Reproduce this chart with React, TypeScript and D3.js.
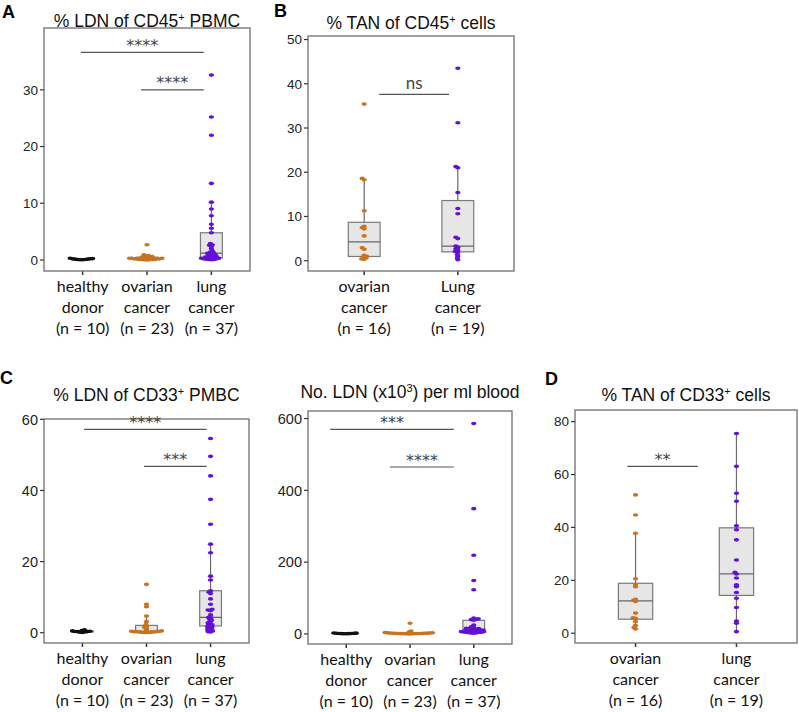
import React from "react";
import * as d3 from "d3";

// ---------------- DATA ----------------
// Panel A: % LDN of CD45+ PBMC
const ldnCD45Healthy = [0.3, 0.25, 0.2, 0.2, 0.15, 0.15, 0.1, 0.1, 0.05, 0.05];
const ldnCD45Ovarian = [2.7, 0.9, 0.8, 0.7, 0.6, 0.5, 0.5, 0.4, 0.4, 0.3, 0.3, 0.3, 0.2, 0.2, 0.2, 0.2, 0.1, 0.1, 0.1, 0.1, 0.05, 0.05, 0.02];
const ldnCD45Lung = [32.6, 25.2, 22.0, 13.5, 10.2, 9.0, 7.8, 6.3, 5.6, 4.8, 2.9, 2.7, 2.6, 2.4, 2.0, 1.6, 1.4, 1.3, 1.2, 1.1, 1.0, 0.9, 0.8, 0.7, 0.6, 0.5, 0.5, 0.4, 0.4, 0.3, 0.3, 0.2, 0.2, 0.15, 0.1, 0.1, 0.05];

// Panel B: % TAN of CD45+ cells
const tanCD45Ovarian = [35.4, 18.6, 18.3, 11.3, 7.8, 7.5, 7.2, 5.6, 2.9, 2.6, 1.2, 1.0, 0.8, 0.6, 0.4, 0.3];
const tanCD45Lung = [43.5, 31.2, 21.3, 21.0, 15.4, 11.8, 10.6, 5.3, 5.0, 3.3, 3.0, 2.7, 2.4, 2.1, 1.9, 1.4, 1.0, 0.6, 0.2];

// Panel C (left): % LDN of CD33+ PMBC
const ldnCD33Healthy = [0.8, 0.6, 0.5, 0.4, 0.35, 0.3, 0.3, 0.2, 0.15, 0.1];
const ldnCD33Ovarian = [13.6, 8.0, 7.3, 4.7, 3.1, 2.3, 1.8, 1.5, 1.2, 0.6, 0.5, 0.4, 0.35, 0.3, 0.3, 0.25, 0.2, 0.2, 0.15, 0.1, 0.1, 0.05, 0.05];
const ldnCD33Lung = [54.6, 49.6, 44.1, 37.5, 30.5, 24.9, 22.5, 15.9, 14.8, 11.8, 11.4, 11.0, 9.5, 8.0, 6.6, 6.4, 6.2, 5.0, 4.3, 4.2, 3.8, 3.5, 3.1, 2.8, 2.6, 2.3, 2.2, 1.9, 1.7, 1.6, 1.4, 1.1, 0.9, 0.7, 0.5, 0.3, 0.2];

// Panel C (right): No. LDN (x10^3) per ml blood
const ldnCountHealthy = [2.6, 2.2, 1.9, 1.6, 1.4, 1.2, 1.0, 0.8, 0.6, 0.4];
const ldnCountOvarian = [30, 8, 5, 4, 3.5, 3, 2.8, 2.5, 2.2, 2, 1.8, 1.6, 1.5, 1.3, 1.2, 1, 0.9, 0.8, 0.6, 0.5, 0.4, 0.3, 0.2];
const ldnCountLung = [586, 349, 219, 149, 123, 44, 42, 41, 40, 38, 25, 20, 18, 16, 15, 14, 13, 12.5, 12, 11, 10, 9.5, 9, 8.5, 8, 7.5, 7, 6.5, 6, 5.5, 5, 4.5, 4, 3.5, 3, 2.5, 2];

// Panel D: % TAN of CD33+ cells
const tanCD33Ovarian = [52.3, 44.7, 37.8, 20.6, 18.3, 17.6, 12.8, 12.4, 12.0, 7.6, 5.8, 5.6, 4.4, 2.9, 2.2, 1.6];
const tanCD33Lung = [75.5, 63.1, 52.9, 49.9, 40.6, 39.1, 35.3, 27.7, 23.0, 22.4, 20.9, 18.3, 17.6, 15.4, 13.2, 9.7, 4.6, 3.8, 0.6];

// Category labels
const labelsThree = [["healthy", "donor", "(n = 10)"], ["ovarian", "cancer", "(n = 23)"], ["lung", "cancer", "(n = 37)"]];
const labelsB = [["ovarian", "cancer", "(n = 16)"], ["Lung", "cancer", "(n = 19)"]];
const labelsD = [["ovarian", "cancer", "(n = 16)"], ["lung", "cancer", "(n = 19)"]];

// Ticks
const ticksA = [0, 10, 20, 30];
const ticksB = [0, 10, 20, 30, 40, 50];
const ticksC1 = [0, 20, 40, 60];
const ticksC2 = [0, 200, 400, 600];
const ticksD = [0, 20, 40, 60, 80];

// Significance annotations: [fromIndex, toIndex, yValue, label]
const sigA = [[0, 2, 36.6, "****"], [1, 2, 30.0, "****"]];
const sigB = [[0, 1, 37.6, "ns"]];
const sigC1 = [[0, 2, 57.2, "****"], [1, 2, 46.8, "***"]];
const sigC2 = [[0, 2, 570, "***"], [1, 2, 465, "****"]];
const sigD = [[0, 1, 63.1, "**"]];

// ---------------- STYLE ----------------
const COL_HEALTHY = "#111111";
const COL_OVARIAN = "#C8731F";
const COL_LUNG = "#6410D8";
const FRAME = "#6e6e6e";
const TICKCOL = "#333333";
const TITLE_FONT = "'Liberation Sans', Arial, sans-serif";
const LABEL_FONT = "Lato, 'Open Sans', sans-serif";

type Panel = {
  letter: string;
  letterPos: [number, number];
  title: React.ReactNode;
  titleY: number;
  box: [number, number, number, number];
  domain: [number, number];
  ticks: number[];
  tickSize: number;
  groups: { values: number[]; color: string; lines: string[] }[];
  sigs: (number | string)[][];
  sigNudge: [number, number][];
};

function supTitle(before: string, sup: string, after: string) {
  return (
    <>
      <tspan>{before}</tspan>
      <tspan fontSize="11" dy="-6">{sup}</tspan>
      <tspan dy="6">{after}</tspan>
    </>
  );
}

const panels: Panel[] = [
  {
    letter: "A", letterPos: [2, 18], title: supTitle("% LDN of CD45", "+", " PBMC"), titleY: 27,
    box: [44, 28, 250, 271], domain: [-1.94, 40.9], ticks: ticksA, tickSize: 13.5,
    groups: [
      { values: ldnCD45Healthy, color: COL_HEALTHY, lines: labelsThree[0] },
      { values: ldnCD45Ovarian, color: COL_OVARIAN, lines: labelsThree[1] },
      { values: ldnCD45Lung, color: COL_LUNG, lines: labelsThree[2] },
    ],
    sigs: sigA, sigNudge: [[-1.7, -7.7], [-6, -7.7]],
  },
  {
    letter: "B", letterPos: [274, 17], title: supTitle("% TAN of CD45", "+", " cells"), titleY: 29,
    box: [308, 36, 514, 271], domain: [-2.33, 50.8], ticks: ticksB, tickSize: 13.5,
    groups: [
      { values: tanCD45Ovarian, color: COL_OVARIAN, lines: labelsB[0] },
      { values: tanCD45Lung, color: COL_LUNG, lines: labelsB[1] },
    ],
    sigs: sigB, sigNudge: [[15, -8.8]],
  },
  {
    letter: "C", letterPos: [0, 384], title: supTitle("% LDN of CD33", "+", " PMBC"), titleY: 401,
    box: [44, 419, 249, 643], domain: [-2.9, 60.1], ticks: ticksC1, tickSize: 14.5,
    groups: [
      { values: ldnCD33Healthy, color: COL_HEALTHY, lines: labelsThree[0] },
      { values: ldnCD33Ovarian, color: COL_OVARIAN, lines: labelsThree[1] },
      { values: ldnCD33Lung, color: COL_LUNG, lines: labelsThree[2] },
    ],
    sigs: sigC1, sigNudge: [[1.6, -3.9], [-2.5, -3.9]],
  },
  {
    letter: "", letterPos: [0, 0], title: supTitle("No. LDN (x10", "3", ") per ml blood"), titleY: 398,
    box: [308, 411, 512, 644], domain: [-28, 621], ticks: ticksC2, tickSize: 14.5,
    groups: [
      { values: ldnCountHealthy, color: COL_HEALTHY, lines: labelsThree[0] },
      { values: ldnCountOvarian, color: COL_OVARIAN, lines: labelsThree[1] },
      { values: ldnCountLung, color: COL_LUNG, lines: labelsThree[2] },
    ],
    sigs: sigC2, sigNudge: [[-16, -20], [-20, -20]],
  },
  {
    letter: "D", letterPos: [545, 385], title: supTitle("% TAN of CD33", "+", " cells"), titleY: 401,
    box: [575, 410, 797, 643], domain: [-3.7, 84.4], ticks: ticksD, tickSize: 13.5,
    groups: [
      { values: tanCD33Ovarian, color: COL_OVARIAN, lines: labelsD[0] },
      { values: tanCD33Lung, color: COL_LUNG, lines: labelsD[1] },
    ],
    sigs: sigD, sigNudge: [[-8.2, -38.7]],
  },
];

// deterministic beeswarm in pixel space
function swarm(ys: number[], cx: number, ax = 2.4, ay = 1.8): number[] {
  const order = ys.map((_, i) => i).sort((a, b) => ys[b] - ys[a]);
  const placed: { x: number; y: number }[] = [];
  const xs = new Array(ys.length).fill(cx);
  for (const i of order) {
    const y = ys[i];
    let best = 0;
    for (let k = 0; k < 400; k++) {
      const off = (k % 2 === 0 ? 1 : -1) * Math.ceil(k / 2) * 0.5;
      const x = cx + off;
      const ok = placed.every((p) => ((p.x - x) / ax) ** 2 + ((p.y - y) / ay) ** 2 >= 1);
      if (ok) { best = off; break; }
    }
    xs[i] = cx + best;
    placed.push({ x: cx + best, y });
  }
  return xs;
}

function boxStats(values: number[]) {
  const s = [...values].sort(d3.ascending);
  const q1 = d3.quantile(s, 0.25)!;
  const med = d3.quantile(s, 0.5)!;
  const q3 = d3.quantile(s, 0.75)!;
  const iqr = q3 - q1;
  const hi = d3.max(s.filter((v) => v <= q3 + 1.5 * iqr))!;
  const lo = d3.min(s.filter((v) => v >= q1 - 1.5 * iqr))!;
  return { q1, med, q3, hi, lo };
}

function PanelView({ p }: { p: Panel }) {
  const [l, t, r, b] = p.box;
  const y = d3.scaleLinear().domain(p.domain).range([b, t]);
  const idx = p.groups.map((_, i) => String(i));
  const x = d3.scalePoint<string>().domain(idx).range([l, r]).padding(0.6);
  const step = x.step();
  const boxW = step * 0.34;
  const cxTitle = (l + r) / 2;
  return (
    <g>
      {p.letter && (
        <text x={p.letterPos[0]} y={p.letterPos[1]} fontFamily={TITLE_FONT} fontWeight="bold" fontSize="18" fill="#000">
          {p.letter}
        </text>
      )}
      <text x={cxTitle} y={p.titleY} textAnchor="middle" fontFamily={TITLE_FONT} fontSize="17.5" fill="#111">
        {p.title}
      </text>
      {/* groups */}
      {p.groups.map((g, gi) => {
        const cx = x(String(gi))!;
        const st = boxStats(g.values);
        const ys = g.values.map((v) => y(v));
        const xs = swarm(ys, cx);
        return (
          <g key={gi}>
            <line x1={cx} x2={cx} y1={y(st.q3)} y2={y(st.hi)} stroke="#6a6a6a" strokeWidth={1.2} />
            <line x1={cx} x2={cx} y1={y(st.q1)} y2={y(st.lo)} stroke="#6a6a6a" strokeWidth={1.2} />
            <rect x={cx - boxW / 2} y={y(st.q3)} width={boxW} height={Math.max(0.5, y(st.q1) - y(st.q3))}
              fill="#e6e6e6" stroke="#7a7a7a" strokeWidth={1.2} />
            <line x1={cx - boxW / 2} x2={cx + boxW / 2} y1={y(st.med)} y2={y(st.med)} stroke="#666" strokeWidth={1.3} />
            {g.values.map((v, i) => (
              <ellipse key={i} cx={xs[i]} cy={ys[i]} rx={2.7} ry={1.8} fill={g.color} />
            ))}
            {/* x tick */}
            <line x1={cx} x2={cx} y1={b} y2={b + 4} stroke={TICKCOL} strokeWidth={1.5} />
            {g.lines.map((ln, li) => (
              <text key={li} x={cx} y={b + 21 + li * 21} textAnchor="middle" fontFamily={LABEL_FONT} fontSize="16" fill="#111">
                {ln}
              </text>
            ))}
          </g>
        );
      })}
      {/* frame */}
      <rect x={l} y={t} width={r - l} height={b - t} fill="none" stroke={FRAME} strokeWidth={1.3} />
      {/* y ticks */}
      {p.ticks.map((tv) => (
        <g key={tv}>
          <line x1={l - 4} x2={l} y1={y(tv)} y2={y(tv)} stroke={TICKCOL} strokeWidth={1.2} />
          <text x={l - 6} y={y(tv)} dy="0.36em" textAnchor="end" fontFamily={TITLE_FONT} fontSize={p.tickSize} fill="#222">
            {tv}
          </text>
        </g>
      ))}
      {/* significance */}
      {p.sigs.map((s, si) => {
        const x1 = x(String(s[0]))! + p.sigNudge[si][0];
        const x2 = x(String(s[1]))! + p.sigNudge[si][1];
        const yy = y(s[2] as number);
        const lab = s[3] as string;
        const isNs = lab === "ns";
        return (
          <g key={si}>
            <line x1={x1} x2={x2} y1={yy} y2={yy} stroke="#555" strokeWidth={1.2} />
            <text x={(x1 + x2) / 2} y={isNs ? yy - 5 : yy - 1.5} textAnchor="middle"
              fontFamily={isNs ? LABEL_FONT : "'DejaVu Sans', sans-serif"} fontSize={isNs ? 17 : 16} fill="#444">
              {lab}
            </text>
          </g>
        );
      })}
    </g>
  );
}

export default function App() {
  return (
    <svg width={799} height={712} style={{ position: "absolute", left: 0, top: 0, background: "#fff" }}>
      <rect x={0} y={0} width={799} height={712} fill="#fff" />
      {panels.map((p, i) => (
        <PanelView key={i} p={p} />
      ))}
    </svg>
  );
}
